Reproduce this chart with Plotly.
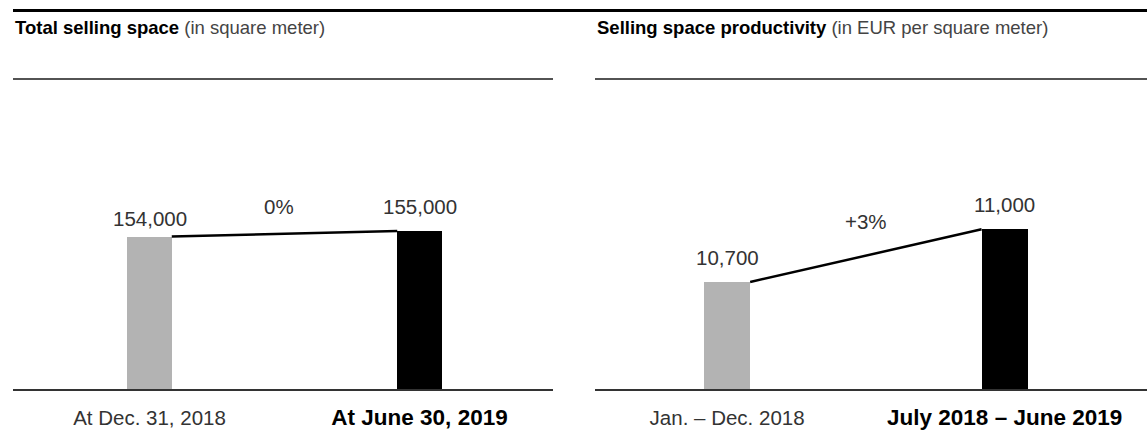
import plotly.graph_objects as go

# ---------------- data ----------------
space_categories = ["At Dec. 31, 2018", "At June 30, 2019"]
space_values = [154000, 155000]
space_value_labels = ["154,000", "155,000"]
space_change = "0%"

prod_categories = ["Jan. \u2013 Dec. 2018", "July 2018 \u2013 June 2019"]
prod_values = [10700, 11000]
prod_value_labels = ["10,700", "11,000"]
prod_change = "+3%"

bar_colors = ["#b3b3b3", "#000000"]

# ---------------- layout helpers ----------------
W, H = 1147, 438
FONT = "Liberation Sans, Arial, Helvetica, sans-serif"


def px_x(p):
    return p / W


def px_y(p):
    return (H - p) / H


y_domain = [px_y(389), px_y(100)]

fig = go.Figure()


def add_panel(idx, cats, vals, labels, change, bar_w, label_shifts, change_shift):
    xa = "x" if idx == 1 else "x2"
    ya = "y" if idx == 1 else "y2"
    pos = list(range(len(cats)))
    fig.add_trace(go.Bar(
        x=pos, y=vals, width=bar_w,
        marker=dict(color=bar_colors, line=dict(width=0)),
        xaxis=xa, yaxis=ya, showlegend=False, hoverinfo="skip",
    ))
    # connector from top-right of first bar to top-left of second
    fig.add_trace(go.Scatter(
        x=[pos[0] + bar_w / 2, pos[1] - bar_w / 2], y=[vals[0], vals[1]],
        mode="lines", line=dict(color="#000000", width=2.5),
        xaxis=xa, yaxis=ya, showlegend=False, hoverinfo="skip",
    ))
    for p, v, t, s in zip(pos, vals, labels, label_shifts):
        fig.add_annotation(
            x=p, y=v, xref=xa, yref=ya, text=t, showarrow=False,
            yanchor="bottom", yshift=s,
            font=dict(family=FONT, size=20.5, color="#333333"),
        )
    fig.add_annotation(
        x=(pos[0] + pos[1]) / 2, y=(vals[0] + vals[1]) / 2, xref=xa, yref=ya,
        text=change, showarrow=False, yanchor="bottom",
        xshift=change_shift[0], yshift=change_shift[1],
        font=dict(family=FONT, size=20.5, color="#333333"),
    )


def ticktext(cats):
    out = []
    for i, c in enumerate(cats):
        if i == len(cats) - 1:
            out.append('<b><span style="font-size:22.5px;color:#000000">%s</span></b>' % c)
        else:
            out.append(c)
    return out


add_panel(1, space_categories, space_values, space_value_labels, space_change,
          0.165, [5, 11], (-6, 14))
add_panel(2, prod_categories, prod_values, prod_value_labels, prod_change,
          0.166, [11, 11], (0, 21))

axis_common = dict(
    showgrid=False, zeroline=False, fixedrange=True,
)
xaxis_common = dict(
    axis_common, showline=True, linecolor="#333333", linewidth=1.5,
    ticks="outside", ticklen=10, tickcolor="rgba(0,0,0,0)",
    tickfont=dict(family=FONT, size=20.5, color="#333333"),
    tickmode="array", tickvals=[0, 1],
)
yaxis_common = dict(axis_common, showticklabels=False, showline=False, ticks="")

fig.update_layout(
    width=W, height=H,
    margin=dict(l=0, r=0, t=0, b=0),
    paper_bgcolor="#ffffff", plot_bgcolor="#ffffff",
    bargap=0,
    xaxis=dict(xaxis_common, domain=[px_x(13), px_x(553)], range=[-0.5056, 1.4944],
               ticktext=ticktext(space_categories), anchor="y"),
    yaxis=dict(yaxis_common, domain=y_domain, range=[127000, 178200], anchor="x"),
    xaxis2=dict(xaxis_common, domain=[px_x(595), 1.0], range=[-0.476, 1.513],
                ticktext=ticktext(prod_categories), anchor="y2"),
    yaxis2=dict(yaxis_common, domain=y_domain, range=[10090, 11737], anchor="x2"),
    shapes=[
        dict(type="line", xref="paper", yref="paper", x0=px_x(13), x1=1.0,
             y0=px_y(10.5), y1=px_y(10.5), line=dict(color="#000000", width=3)),
        dict(type="line", xref="paper", yref="paper", x0=px_x(13), x1=px_x(553),
             y0=px_y(79), y1=px_y(79), line=dict(color="#1a1a1a", width=1.5)),
        dict(type="line", xref="paper", yref="paper", x0=px_x(595), x1=1.0,
             y0=px_y(79), y1=px_y(79), line=dict(color="#1a1a1a", width=1.5)),
    ],
)

fig.add_annotation(
    xref="paper", yref="paper", x=px_x(13), y=px_y(27.5), xanchor="left", yanchor="middle",
    text='<b>Total selling space</b> <span style="color:#444444">(in square meter)</span>',
    showarrow=False, font=dict(family=FONT, size=18.5, color="#000000"),
)
fig.add_annotation(
    xref="paper", yref="paper", x=px_x(595), y=px_y(27.5), xanchor="left", yanchor="middle",
    text='<b>Selling space productivity</b> <span style="color:#444444">(in EUR per square meter)</span>',
    showarrow=False, font=dict(family=FONT, size=18.5, color="#000000"),
)

fig.write_html("out.html")
